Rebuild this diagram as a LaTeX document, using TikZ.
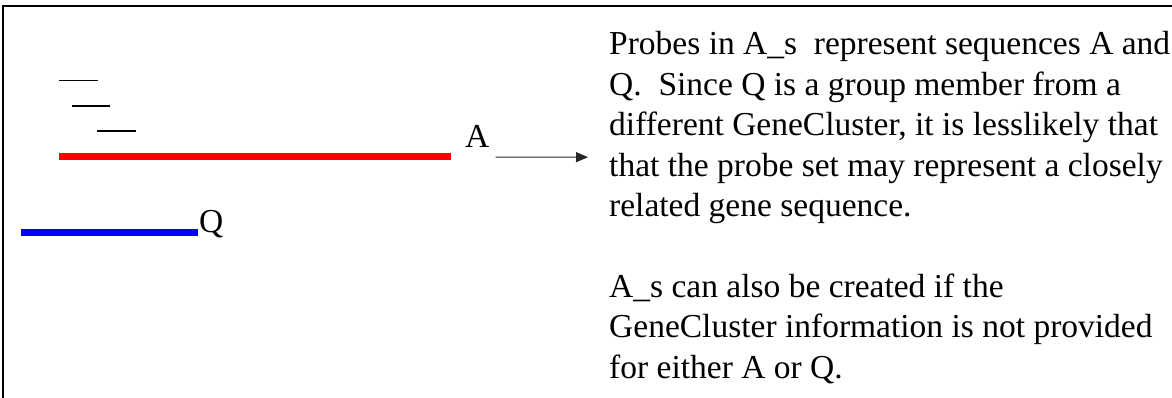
\documentclass[tikz,border=0pt]{standalone}
\usepackage{fontspec}
\setmainfont{Liberation Serif}
\usetikzlibrary{arrows.meta,calc}
\begin{document}
\begin{tikzpicture}[x=1pt,y=-1pt,
  txt/.style={anchor=base west, inner sep=0pt, font=\fontsize{33.5}{40}\selectfont},
  probe/.style={line width=1.5pt, black},
  seq/.style={line width=7pt},
  frame/.style={line width=1.6pt, black},
  pointer/.style={line width=1pt, black!85, -{Triangle[length=12pt,width=10pt]}}
]
\useasboundingbox (0,0) rectangle (1172,398);
\draw[frame] (2.7,398) -- (2.7,6) -- (1172,6);
% probes
\draw[probe] (59,80.5) -- (98,80.5);
\draw[probe] (72,106) -- (110,106);
\draw[probe] (97,131) -- (136,131);
% sequences
\draw[seq, red] (59,156.5) -- (451,156.5);
\draw[seq, blue] (21,232.5) -- (198,232.5);
\node[txt] (A) at (465,148) {A};
\node[txt] (Q) at (199,233) {Q};
% text
\frenchspacing
\node[txt] (t1) at (609,55) {Probes in A\_s\ \ represent sequences A and};
\node[txt] (t2) at (609,95.4) {Q.\ \ Since Q is a group member from a};
\node[txt] (t3) at (609,135.8) {different GeneCluster, it is lesslikely that};
\node[txt] (t4) at (609,176.2) {that the probe set may represent a closely};
\node[txt] (t5) at (609,216.6) {related gene sequence.};
\node[txt] (t6) at (609,297.4) {A\_s can also be created if the};
\node[txt] (t7) at (609,337.8) {GeneCluster information is not provided};
\node[txt] (t8) at (609,378.2) {for either A or Q.};
% arrow
\draw[pointer] ($(A.base east)+(6,9)$) -- ($(t4.base west)+(-21,-19)$);
\end{tikzpicture}
\end{document}
